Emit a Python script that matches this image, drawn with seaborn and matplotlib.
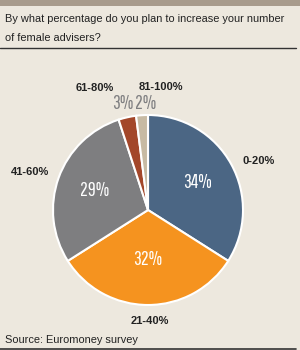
import matplotlib
matplotlib.use("Agg")
import matplotlib.pyplot as plt
import seaborn as sns
import numpy as np

sns.set_theme(style="white")
plt.rcParams['font.family'] = ['Liberation Sans', 'DejaVu Sans']

categories = ["0-20%", "21-40%", "41-60%", "61-80%", "81-100%"]
values = [34, 32, 29, 3, 2]
pct_labels = ["34%", "32%", "29%", "3%", "2%"]
colors = ["#4b6684", "#f5931f", "#7e7e80", "#a3472a", "#c7baa3"]

bg = "#ede8de"
fig = plt.figure(figsize=(3.0, 3.5), dpi=100)
fig.patch.set_facecolor(bg)

# header band and rules
fig.add_artist(plt.Rectangle((0, 1 - 6/350), 1, 6/350, transform=fig.transFigure,
                             color="#a89b8c", lw=0))
fig.add_artist(plt.Line2D([0, 0.985], [1 - 48/350, 1 - 48/350], transform=fig.transFigure,
                          color="#333333", lw=1))
fig.add_artist(plt.Line2D([0, 0.985], [1 - 349/350, 1 - 349/350], transform=fig.transFigure,
                          color="#333333", lw=1.2))
fig.text(5/300, 1 - 19/350, "By what percentage do you plan to increase your number",
         fontsize=7.95, color="#222222", va="center", ha="left")
fig.text(5/300, 1 - 38/350, "of female advisers?",
         fontsize=7.95, color="#222222", va="center", ha="left")
fig.text(5/300, 1 - 340/350, "Source: Euromoney survey",
         fontsize=7.95, color="#222222", va="center", ha="left")

cx, cy, r = 148, 210, 95
ax = fig.add_axes([(cx - r)/300, (350 - cy - r)/350, 2*r/300, 2*r/350])
ax.set_facecolor(bg)
wedges, _ = ax.pie(values, colors=colors, startangle=90, counterclock=False,
                   wedgeprops=dict(edgecolor="white", linewidth=1.5))
ax.set_xlim(-1, 1)
ax.set_ylim(-1, 1)
ax.set_aspect("equal")
ax.axis("off")

cond = ['Pathway Gothic One', 'Oswald', 'DejaVu Sans']
inner_r = [0.6, 0.52, 0.6]
for i, w in enumerate(wedges[:3]):
    ang = np.deg2rad((w.theta1 + w.theta2) / 2)
    ax.text(inner_r[i]*np.cos(ang), inner_r[i]*np.sin(ang), pct_labels[i],
            color="white", fontsize=14, ha="center", va="center",
            family=cond, clip_on=False)

# small slice percentages above the pie
small_pos = [(-0.27, 1.12), (-0.03, 1.12)]
for (x, y), lab in zip(small_pos, pct_labels[3:]):
    ax.text(x, y, lab, color="#7e7e80", fontsize=14, ha="center", va="center",
            family=cond, clip_on=False)

outer_pos = [(1.16, 0.52), (0.02, -1.17), (-1.24, 0.4), (-0.56, 1.28), (0.14, 1.3)]
for (x, y), lab in zip(outer_pos, categories):
    ax.text(x, y, lab, color="#222222", fontsize=8, ha="center", va="center",
            fontweight="semibold", clip_on=False)

fig.savefig("out.png", dpi=100, facecolor=bg)
